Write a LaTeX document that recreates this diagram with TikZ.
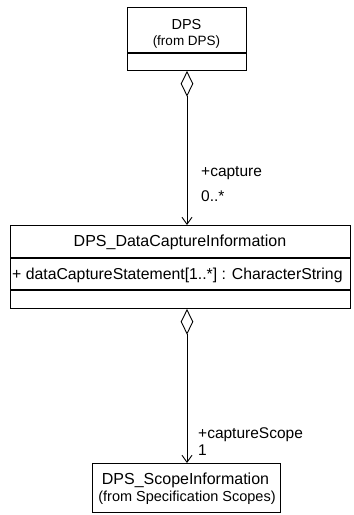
\documentclass[tikz,border=0pt]{standalone}
\usepackage{fontspec}
\setmainfont{Liberation Sans}
\usetikzlibrary{arrows.meta,shapes.geometric}
\begin{document}
\begin{tikzpicture}[x=1pt,y=-1pt,
  classbox/.style={draw, line width=1.3pt, inner sep=0pt, anchor=north west},
  compline/.style={line width=1.1pt},
  agg/.style={draw, shape=diamond, aspect=0.5, minimum width=12pt, minimum height=24pt,
    inner sep=0pt, fill=white, line width=0.9pt, anchor=north},
  assoc/.style={line width=0.9pt, -{Straight Barb[length=7pt,width=10pt,line width=0.9pt]}},
  bigtext/.style={font=\fontsize{16}{18}\selectfont, inner sep=0pt},
  smalltext/.style={font=\fontsize{14.5}{16}\selectfont, inner sep=0pt},
  roletext/.style={font=\fontsize{15.5}{17}\selectfont, inner sep=0pt, anchor=west}
]
\useasboundingbox (0,0) rectangle (354,515);

% class DPS
\node[classbox, minimum width=119pt, minimum height=63pt] (dps) at (127,7) {};
\draw[compline] (dps.west |- 0,53) -- (dps.east |- 0,53);
\node[font=\fontsize{14.5}{16}\selectfont, inner sep=0pt] (dpsName) at (186.5,25) {DPS};
\node[font=\fontsize{13.5}{16}\selectfont, inner sep=0pt] (dpsFrom) at (186.5,42) {(from DPS)};

% class DPS_DataCaptureInformation
\node[classbox, minimum width=340pt, minimum height=83pt] (dci) at (10,225) {};
\draw[compline] (dci.west |- 0,258) -- (dci.east |- 0,258);
\draw[compline] (dci.west |- 0,290) -- (dci.east |- 0,290);
\node[bigtext] (dciName) at (180,242) {DPS\_DataCaptureInformation};
\node[bigtext, anchor=west, font=\fontsize{15.8}{18}\selectfont] (dciAttr) at (12,275)
  {+ dataCaptureStatement[1..*] : CharacterString};

% class DPS_ScopeInformation
\node[classbox, minimum width=188pt, minimum height=49pt] (scope) at (92,463) {};
\node[bigtext] (scopeName) at (185.5,480) {DPS\_ScopeInformation};
\node[smalltext] (scopeFrom) at (187,498) {(from Specification Scopes)};

% aggregation DPS -> DPS_DataCaptureInformation
\node[agg] (dia1) at (dps.south -| 187,0) {};
\coordinate (t1) at (dci.north -| dia1.south);
\draw[assoc] (dia1.south) -- (t1);
\node[roletext] (role1) at (201,173) {+capture};
\node[roletext] (mult1) at (201,196) {0..*};

% aggregation DPS_DataCaptureInformation -> DPS_ScopeInformation
\node[agg] (dia2) at (dci.south -| 187,0) {};
\coordinate (t2) at (scope.north -| dia2.south);
\draw[assoc] (dia2.south) -- (t2);
\node[roletext] (role2) at (198,435) {+captureScope};
\node[roletext] (mult2) at (198,450) {1};
\end{tikzpicture}
\end{document}
